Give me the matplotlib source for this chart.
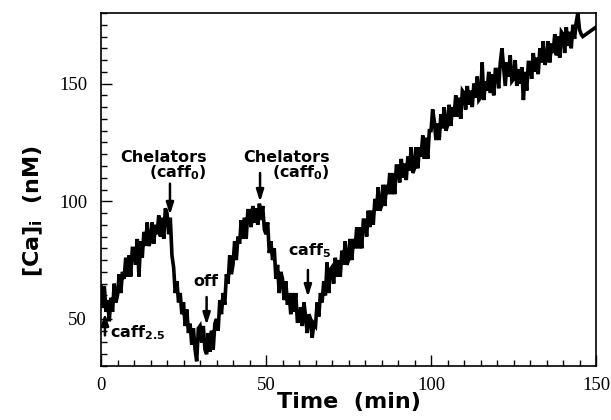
import numpy as np
import matplotlib
matplotlib.use('Agg')
import matplotlib.pyplot as plt
from matplotlib.ticker import MultipleLocator, FixedLocator

# ---------------- data ----------------
sample_step_min = 0.5
calcium_nM = [
    64, 55, 64, 53, 58, 49, 59, 53, 65, 57,            # 0 - 4.5
    60, 69, 61, 70, 67, 76, 68, 77, 68, 80,            # 5 - 9.5
    80, 73, 84, 68, 83, 76, 87, 81, 91, 81,            # 10 - 14.5
    83, 91, 82, 90, 86, 94, 85, 93, 84, 97,            # 15 - 19.5
    95, 86, 93, 77, 72, 61, 66, 57, 61, 52,            # 20 - 24.5
    57, 47, 54, 44, 48, 39, 46, 37, 32, 46,            # 25 - 29.5
    47, 40, 47, 37, 35, 44, 36, 45, 37, 48,            # 30 - 34.5
    50, 45, 58, 52, 61, 56, 69, 65, 77, 69,            # 35 - 39.5
    73, 83, 75, 85, 82, 92, 84, 93, 84, 96,            # 40 - 44.5
    96, 89, 98, 91, 97, 90, 99, 92, 98, 88,            # 45 - 49.5
    86, 91, 78, 83, 75, 80, 67, 73, 61, 70,            # 50 - 54.5
    67, 58, 66, 56, 61, 52, 61, 53, 61, 49,            # 55 - 59.5
    49, 55, 47, 57, 51, 44, 52, 50, 42, 48,            # 60 - 64.5
    47, 57, 51, 61, 57, 66, 60, 74, 61, 71,            # 65 - 69.5
    72, 65, 76, 68, 75, 68, 79, 73, 83, 73,            # 70 - 74.5
    75, 84, 75, 84, 80, 89, 80, 89, 80, 92,            # 75 - 79.5
    92, 85, 96, 89, 96, 90, 101, 96, 106, 96,          # 80 - 84.5
    98, 107, 98, 107, 103, 112, 103, 112, 103, 115,    # 85 - 89.5
    115, 108, 118, 110, 116, 109, 119, 113, 123, 112,  # 90 - 94.5
    114, 123, 114, 123, 119, 128, 118, 127, 118, 130,  # 95 - 99.5
    130, 139, 134, 126, 133, 126, 137, 131, 140, 130,  # 100 - 104.5
    132, 141, 132, 140, 136, 145, 136, 144, 135, 147,  # 105 - 109.5
    146, 139, 149, 141, 147, 140, 150, 144, 153, 143,  # 110 - 114.5
    144, 159, 143, 151, 147, 155, 146, 154, 145, 156,  # 115 - 119.5
    156, 148, 159, 165, 157, 149, 159, 153, 162, 151,  # 120 - 124.5
    152, 160, 149, 156, 150, 157, 143, 155, 147, 159,  # 125 - 129.5
    159, 152, 163, 155, 161, 154, 165, 159, 168, 158,  # 130 - 134.5
    160, 168, 159, 167, 163, 171, 162, 170, 161, 172,  # 135 - 139.5
    171, 163, 174, 166, 172, 165, 175, 169, 176, 180,  # 140 - 144.5
    173, 171,                                          # 145 - 145.5
]
tail_time_min = [146, 150]
tail_calcium_nM = [170, 174]

x_ticks = [0, 50, 100, 150]
y_ticks = [50, 100, 150]

time_min = np.concatenate([np.arange(len(calcium_nM)) * sample_step_min, tail_time_min])
values = np.concatenate([calcium_nM, tail_calcium_nM])

# ---------------- figure ----------------
fig = plt.figure(figsize=(6.11, 4.20), dpi=100)
ax = fig.add_axes([101 / 611, 1 - 366 / 420, 495 / 611, 353 / 420])

ax.plot(time_min, values, color='black', lw=2.6, solid_joinstyle='miter')

ax.set_xlim(0, 150)
ax.set_ylim(30, 180)
ax.xaxis.set_major_locator(FixedLocator(x_ticks))
ax.yaxis.set_major_locator(FixedLocator(y_ticks))
ax.xaxis.set_minor_locator(MultipleLocator(5))
ax.yaxis.set_minor_locator(MultipleLocator(5))
ax.tick_params(which='both', direction='in', top=False, right=False, width=1.0, color='black')
ax.tick_params(which='major', length=8)
ax.tick_params(which='minor', length=4)
ax.tick_params(axis='x', which='major', pad=8)
ax.tick_params(axis='y', which='major', pad=10)
for lab in ax.get_xticklabels() + ax.get_yticklabels():
    lab.set_fontfamily('Liberation Serif')
    lab.set_fontsize(13.5)
for sp in ax.spines.values():
    sp.set_linewidth(1.2)

ax.set_xlabel('Time  (min)', fontsize=16, fontweight='bold', family='DejaVu Sans')
ax.xaxis.set_label_coords(0.5, -0.075)
ax.set_ylabel('[Ca]$_\\mathbf{i}$  (nM)', fontsize=16, fontweight='bold', family='DejaVu Sans')
ax.yaxis.set_label_coords(-0.113, 0.44)

# ---------------- annotations ----------------
tstyle = dict(fontsize=11.5, fontweight='bold', family='DejaVu Sans', color='black')
arrow = dict(arrowstyle='-|>,head_length=0.7,head_width=0.22', lw=1.8, color='black',
             shrinkA=0, shrinkB=0)

ax.text(32.1, 118.8, 'Chelators', ha='right', va='center', **tstyle)
ax.text(32.1, 112.0, '(caff$_\\mathbf{0}$)', ha='right', va='center', **tstyle)
ax.annotate('', xy=(20.9, 94.2), xytext=(20.9, 107.5), arrowprops=arrow)

ax.text(69.4, 118.8, 'Chelators', ha='right', va='center', **tstyle)
ax.text(69.4, 112.0, '(caff$_\\mathbf{0}$)', ha='right', va='center', **tstyle)
ax.annotate('', xy=(48.2, 99.7), xytext=(48.2, 112.0), arrowprops=arrow)

ax.text(31.7, 65.7, 'off', ha='center', va='center', **tstyle)
ax.annotate('', xy=(32.0, 47.4), xytext=(32.0, 59.3), arrowprops=arrow)

ax.text(56.6, 78.9, 'caff$_\\mathbf{5}$', ha='left', va='center', **tstyle)
ax.annotate('', xy=(62.7, 59.3), xytext=(62.7, 70.8), arrowprops=arrow)

ax.text(2.7, 44.0, 'caff$_\\mathbf{2.5}$', ha='left', va='center', **tstyle)
ax.annotate('', xy=(1.2, 52.5), xytext=(1.2, 43.0), arrowprops=arrow)

fig.savefig('out.png', dpi=100)
